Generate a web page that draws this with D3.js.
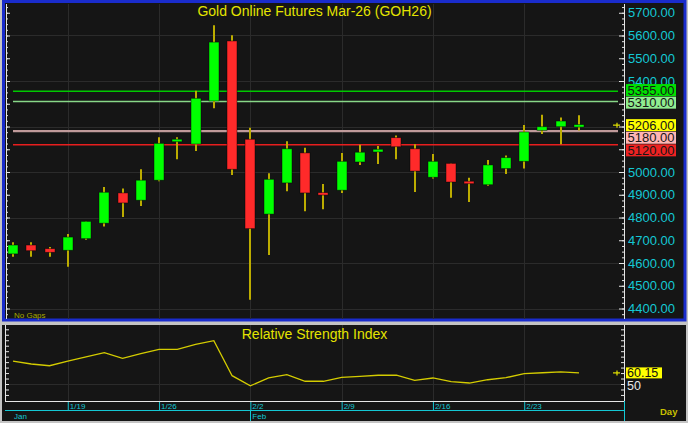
<!DOCTYPE html>
<html><head><meta charset="utf-8">
<script src="https://cdn.jsdelivr.net/npm/d3@7"></script>
<style>
html,body{margin:0;padding:0;background:#c4c4c4;overflow:hidden}
svg{display:block}
text{font-family:"Liberation Sans",Arial,sans-serif}
</style>
</head><body>
<svg id="c" width="688" height="423"></svg>
<script>
// ---------------- data ----------------
const dates = ["1/14","1/15","1/16","1/19","1/20","1/21","1/22","1/23","1/26","1/27","1/28","1/29","1/30",
  "2/2","2/3","2/4","2/5","2/6","2/9","2/10","2/11","2/12","2/13","2/16","2/17","2/18","2/19","2/20",
  "2/23","2/24","2/25","2/26"];
const opens  = [4640,4679,4663,4656,4707,4775,4908,4876,4964,5133,5123,5312,5576,5144,4815,4952,5084,4905,4920,5044,5088,5151,5102,4977,5038,4959,4944,5015,5047,5183,5199,5200];
const highs  = [4691,4691,4670,4727,4783,4934,4927,5012,5153,5153,5357,5645,5601,5195,4994,5135,5107,4947,5084,5120,5114,5160,5122,5079,5038,4975,5053,5072,5207,5252,5240,5249];
const lows   = [4628,4628,4628,4584,4702,4760,4802,4851,4959,5056,5092,5280,4987,4439,4635,4915,4827,4836,4908,5031,5035,5056,4912,4971,4887,4868,4940,4991,5015,5167,5122,5182];
const closes = [4679,4654,4647,4714,4783,4911,4864,4964,5126,5144,5324,5571,5012,4751,4968,5102,4908,4903,5047,5087,5100,5111,5004,5047,4956,4949,5031,5063,5176,5199,5224,5206];
const rsiValues = [71.0,68.3,66.7,71.0,74.7,78.6,73.5,77.7,81.7,81.7,86.3,89.6,57.6,48.4,55.5,58.5,52.5,52.5,
  56.1,57.0,58.0,58.0,53.4,55.5,52.1,50.9,53.9,55.8,59.4,60.3,61.0,60.15];
const levelValues = [5355,5310,5180,5120];
const lastPrice = 5206;
const priceTickLabels = [4400,4500,4600,4700,4800,4900,5000,5100,5200,5300,5400,5500,5600,5700];
const priceGrid = [4400,4600,4800,5000,5200,5400,5600];
const weekLabels = ["1/19","1/26","2/2","2/9","2/16","2/23"];
const monthLabels = [["1/14","Jan"],["2/2","Feb"]];
const rsiLabel = 50;
const title = "Gold Online Futures Mar-26 (GOH26)";
const rsiTitle = "Relative Strength Index";

// ---------------- styles ----------------
const levelStyle = {
  5355:{line:"#00c800", box:"#00e000", w:1.6},
  5310:{line:"#88d888", box:"#90ee90", w:1.6},
  5180:{line:"#c09a9a", box:"#ffb4b4", w:2.2},
  5120:{line:"#e81e1e", box:"#ee2222", w:1.6}
};
const BG = "#151515", GRID = "#2b2b2b", CYAN = "#14c8d4", YEL = "#e4e400";
const UP = "#00ff00", DN = "#ff2a2a", WICK = "#bcac00";

const svg = d3.select("#c");
// frames
svg.append("rect").attr("x",0).attr("y",0).attr("width",688).attr("height",423).attr("fill","#c4c4c4");
svg.append("rect").attr("x",3.5).attr("y",1.5).attr("width",681.5).attr("height",318.5)
  .attr("fill",BG).attr("stroke","#1a2ccc").attr("stroke-width",3);
svg.append("rect").attr("x",2).attr("y",325).attr("width",684).attr("height",96).attr("fill",BG);

// scales
const x = d3.scalePoint().domain(dates).range([13,579]);
const step = x.step();
const y = d3.scaleLinear().domain([4400,5700]).range([308.5,12.75]);
const yr = d3.scaleLinear().domain([50,100]).range([384,329.3]);

const L = 5, R = 624, T = 4, B = 319, RT = 325, RB = 401;

// gridlines
const gm = svg.append("g");
gm.selectAll("line.h").data(priceGrid).join("line")
  .attr("x1",L).attr("x2",R).attr("y1",d=>Math.round(y(d))+0.5).attr("y2",d=>Math.round(y(d))+0.5)
  .attr("stroke",GRID).attr("stroke-width",1);
gm.selectAll("line.v").data(weekLabels).join("line")
  .attr("x1",d=>Math.round(x(d))+0.5).attr("x2",d=>Math.round(x(d))+0.5).attr("y1",T).attr("y2",B)
  .attr("stroke",GRID);
gm.selectAll("line.vr").data(weekLabels).join("line")
  .attr("x1",d=>Math.round(x(d))+0.5).attr("x2",d=>Math.round(x(d))+0.5).attr("y1",RT).attr("y2",RB)
  .attr("stroke",GRID);
gm.append("line").attr("x1",L).attr("x2",R).attr("y1",Math.round(yr(50))+0.5).attr("y2",Math.round(yr(50))+0.5).attr("stroke",GRID);

// title
svg.append("text").attr("x",(L+R)/2).attr("y",16).attr("text-anchor","middle")
  .attr("font-size",14).attr("fill",YEL).text(title);
svg.append("text").attr("x",14).attr("y",318).attr("font-size",8).attr("fill","#a8a800").text("No Gaps");

// level lines
svg.append("g").selectAll("line").data(levelValues).join("line")
  .attr("x1",x(dates[0])).attr("x2",618).attr("y1",d=>y(d)).attr("y2",d=>y(d))
  .attr("stroke",d=>levelStyle[d].line).attr("stroke-width",d=>levelStyle[d].w);

// candles
const idx = d3.range(dates.length);
const cg = svg.append("g");
const bw = Math.round(step*0.55);
cg.selectAll("line.w").data(idx).join("line")
  .attr("x1",i=>Math.round(x(dates[i]))).attr("x2",i=>Math.round(x(dates[i])))
  .attr("y1",i=>y(highs[i])).attr("y2",i=>y(lows[i]))
  .attr("stroke",WICK).attr("stroke-width",2);
cg.selectAll("rect").data(idx).join("rect")
  .attr("x",i=>Math.round(x(dates[i]))-bw/2)
  .attr("width",bw)
  .attr("y",i=>{const t=y(Math.max(opens[i],closes[i])), b=y(Math.min(opens[i],closes[i]));
     return b-t<2.5 ? (t+b)/2-1.25 : t;})
  .attr("height",i=>Math.max(2.5,y(Math.min(opens[i],closes[i]))-y(Math.max(opens[i],closes[i]))))
  .attr("fill",i=>closes[i]>=opens[i]?UP:DN)
  .attr("stroke","rgba(0,0,0,0.55)").attr("stroke-width",0.8);

// axes main
function styleAxis(g){g.select(".domain").remove();g.selectAll(".tick line").attr("stroke","#e6e6e6");}
const minor = d3.range(4375,5726,25).filter(v=>y(v)>=T&&y(v)<=B);
const major = minor.filter(v=>v%100===0);
svg.append("g").attr("transform",`translate(${R},0)`).call(d3.axisLeft(y).tickValues(minor).tickSize(2).tickFormat("")).call(styleAxis);
svg.append("g").attr("transform",`translate(${R},0)`).call(d3.axisLeft(y).tickValues(major).tickSize(5).tickFormat("")).call(styleAxis);
svg.append("g").attr("transform",`translate(${L+1},0)`).call(d3.axisRight(y).tickValues(minor).tickSize(2).tickFormat("")).call(styleAxis);
svg.append("g").attr("transform",`translate(${L+1},0)`).call(d3.axisRight(y).tickValues(major).tickSize(4).tickFormat("")).call(styleAxis);
svg.append("line").attr("x1",R+0.5).attr("x2",R+0.5).attr("y1",T).attr("y2",B).attr("stroke","#e6e6e6");
svg.append("line").attr("x1",L+1.5).attr("x2",L+1.5).attr("y1",T).attr("y2",B).attr("stroke","#e6e6e6");

// price boxes with collision avoidance
const boxes = levelValues.concat([lastPrice]).map(v=>({v, c:y(v), fixed:v===lastPrice}));
boxes.sort((a,b)=>a.c-b.c);
const sp = 12.6;
for(let k=0;k<60;k++){
  for(let i=1;i<boxes.length;i++){
    const a=boxes[i-1], b=boxes[i], ov=sp-(b.c-a.c);
    if(ov>0){
      if(a.fixed) b.c+=ov; else if(b.fixed) a.c-=ov; else {a.c-=ov/2;b.c+=ov/2;}
    }
  }
}

// axis labels (those fully hidden under a price box are not drawn)
svg.append("g").selectAll("text")
  .data(priceTickLabels.filter(v=>!boxes.some(b=>Math.abs(b.c-y(v))<8)))
  .join("text")
  .attr("x",628).attr("y",d=>y(d)+4.6).attr("font-size",13).attr("fill",CYAN)
  .text(d=>d.toFixed(2));

const bg = svg.append("g");
bg.selectAll("rect").data(boxes).join("rect")
  .attr("x",626).attr("width",50).attr("y",d=>d.c-6).attr("height",12)
  .attr("fill",d=>d.fixed?"#ffff00":levelStyle[d.v].box);
bg.selectAll("text").data(boxes).join("text")
  .attr("x",627.5).attr("y",d=>d.c+4.6).attr("font-size",13).attr("fill","#161616")
  .text(d=>d.v.toFixed(2));

// last price marker
function marker(yy){
  const g=svg.append("g").attr("stroke",YEL).attr("stroke-width",1.2);
  g.append("line").attr("x1",613).attr("x2",620).attr("y1",yy).attr("y2",yy);
  g.append("line").attr("x1",617).attr("x2",617).attr("y1",yy-2.5).attr("y2",yy+2.5);
}
marker(y(lastPrice));

// ---------------- RSI panel ----------------
svg.append("text").attr("x",(L+R)/2).attr("y",339).attr("text-anchor","middle")
  .attr("font-size",14).attr("fill",YEL).text(rsiTitle);
const rsiMinor = d3.range(0,101,5).filter(v=>yr(v)>=RT+2&&yr(v)<=RB-2);
svg.append("g").attr("transform",`translate(${L+1},0)`).call(d3.axisRight(yr).tickValues(rsiMinor).tickSize(3).tickFormat("")).call(styleAxis);
svg.append("g").attr("transform",`translate(${R},0)`).call(d3.axisLeft(yr).tickValues(rsiMinor).tickSize(3).tickFormat("")).call(styleAxis);
svg.append("line").attr("x1",L+0.5).attr("x2",L+0.5).attr("y1",RT).attr("y2",RB).attr("stroke","#e6e6e6");
svg.append("line").attr("x1",R+0.5).attr("x2",R+0.5).attr("y1",RT).attr("y2",RB).attr("stroke","#e6e6e6");
svg.append("line").attr("x1",L).attr("x2",R+1).attr("y1",RB+0.5).attr("y2",RB+0.5).attr("stroke","#e6e6e6");

const rsiLine = d3.line().x((d,i)=>x(dates[i])).y(d=>yr(d));
svg.append("path").datum(rsiValues).attr("d",rsiLine).attr("fill","none")
  .attr("stroke","#d4cc00").attr("stroke-width",1.3);

svg.append("text").attr("x",627).attr("y",yr(rsiLabel)+5.5).attr("font-size",12.5).attr("fill","#e8e8e8").text(rsiLabel);
const lastR = rsiValues[rsiValues.length-1];
svg.append("rect").attr("x",626).attr("y",yr(lastR)-5.5).attr("width",36).attr("height",11).attr("fill","#ffff00");
svg.append("text").attr("x",627).attr("y",yr(lastR)+4.4).attr("font-size",12.5).attr("fill","#111").text(lastR.toFixed(2));
marker(yr(lastR));

// ---------------- date axis ----------------
const da = svg.append("g").attr("transform",`translate(0,${RB+1})`)
  .call(d3.axisBottom(x).tickValues(weekLabels).tickSize(9).tickFormat(""));
da.select(".domain").remove();
da.selectAll(".tick line").attr("stroke",CYAN);
svg.append("g").selectAll("text").data(weekLabels).join("text")
  .attr("x",d=>x(d)+2).attr("y",409).attr("font-size",8).attr("fill",CYAN).text(d=>d);
svg.append("line").attr("x1",L).attr("x2",R+1).attr("y1",410.5).attr("y2",410.5).attr("stroke",CYAN);
svg.append("g").selectAll("line").data(monthLabels.slice(1)).join("line")
  .attr("x1",d=>Math.round(x(d[0]))+0.5).attr("x2",d=>Math.round(x(d[0]))+0.5)
  .attr("y1",410).attr("y2",421).attr("stroke",CYAN);
svg.append("line").attr("x1",R+0.5).attr("x2",R+0.5).attr("y1",RB).attr("y2",421).attr("stroke",CYAN);
svg.append("g").selectAll("text").data(monthLabels).join("text")
  .attr("x",(d,i)=>i===0?14:x(d[0])+2).attr("y",419).attr("font-size",8).attr("fill",CYAN).text(d=>d[1]);
svg.append("text").attr("x",660).attr("y",415).attr("font-size",9.5).attr("font-weight","bold").attr("fill","#c8c000").text("Day");
</script>
</body></html>
